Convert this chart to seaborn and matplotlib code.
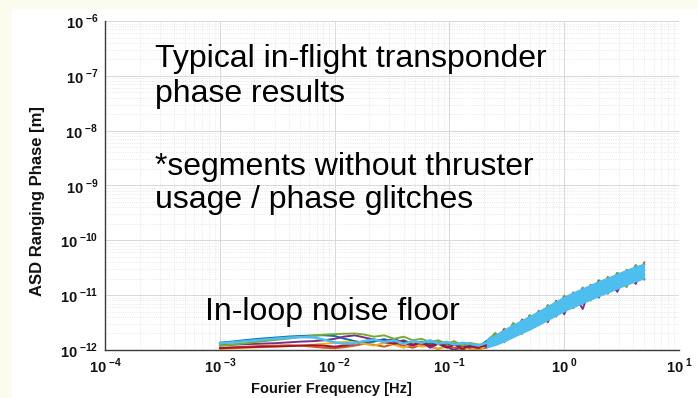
import numpy as np
import pandas as pd
import matplotlib
matplotlib.use("Agg")
import matplotlib.pyplot as plt
import seaborn as sns
from matplotlib.ticker import FixedLocator, LogLocator, FuncFormatter, NullFormatter
from matplotlib.patches import Rectangle

# Fourier frequency bins [Hz]
freq_hz = [0.001, 0.0013, 0.0017, 0.0022, 0.003, 0.004, 0.005, 0.0065, 0.008, 0.01,
           0.012, 0.015, 0.018, 0.022, 0.027, 0.033, 0.04, 0.048, 0.057, 0.068,
           0.08, 0.095, 0.11, 0.13, 0.15, 0.18, 0.21, 0.25, 0.3, 0.36,
           0.43, 0.5, 0.6, 0.72, 0.85, 1.0, 1.2, 1.45, 1.7, 2.0,
           2.4, 2.9, 3.5, 4.2, 5.0]

# ASD of the ranging phase per segment [pm]
asd_seg1 = [1.36, 1.43, 1.52, 1.60, 1.68, 1.76, 1.80, 1.84, 1.86, 1.80,
            1.62, 1.45, 1.35, 1.42, 1.58, 1.40, 1.50, 1.30, 1.42, 1.28,
            1.38, 1.22, 1.32, 1.18, 1.30, 1.15, 1.45, 1.95, 1.60, 3.05,
            2.20, 4.30, 3.10, 6.50, 4.40, 9.60, 6.40, 13.6, 9.20, 18.5,
            12.5, 25.5, 18.0, 35.0, 23.5]
asd_seg2 = [1.10, 1.12, 1.15, 1.18, 1.20, 1.22, 1.20, 1.15, 1.10, 1.08,
            1.12, 1.20, 1.30, 1.25, 1.15, 1.30, 1.20, 1.10, 1.25, 1.15,
            1.05, 1.20, 1.10, 1.00, 1.15, 1.05, 1.10, 1.30, 2.45, 1.75,
            3.60, 2.40, 5.20, 3.20, 7.90, 4.90, 11.2, 7.00, 15.5, 9.60,
            21.5, 13.0, 29.0, 18.0, 40.0]
asd_seg3 = [1.05, 1.07, 1.10, 1.12, 1.15, 1.18, 1.20, 1.25, 1.30, 1.35,
            1.40, 1.38, 1.30, 1.20, 1.35, 1.25, 1.10, 1.30, 1.15, 1.20,
            1.05, 1.15, 1.00, 1.10, 1.05, 0.98, 1.20, 1.35, 1.45, 2.55,
            1.95, 3.90, 2.85, 5.70, 4.10, 8.80, 5.80, 12.0, 8.20, 16.2,
            10.8, 22.5, 15.0, 30.0, 19.5]
asd_seg4 = [1.22, 1.25, 1.28, 1.30, 1.33, 1.38, 1.42, 1.45, 1.50, 1.60,
            1.75, 1.85, 1.70, 1.55, 1.45, 1.60, 1.35, 1.20, 1.40, 1.10,
            1.30, 1.15, 1.00, 1.20, 1.10, 1.25, 1.15, 1.30, 2.30, 1.80,
            3.50, 2.40, 5.00, 3.30, 7.50, 4.50, 10.9, 5.60, 14.4, 9.00,
            19.8, 11.5, 26.5, 16.0, 36.0]
asd_seg5 = [1.20, 1.26, 1.33, 1.42, 1.52, 1.62, 1.72, 1.82, 1.90, 1.95,
            1.98, 2.00, 1.92, 1.75, 1.85, 1.60, 1.75, 1.50, 1.60, 1.40,
            1.50, 1.30, 1.45, 1.20, 1.35, 1.25, 1.30, 2.05, 1.50, 3.10,
            2.15, 4.30, 3.00, 6.60, 4.30, 9.80, 5.80, 13.8, 8.00, 18.8,
            10.6, 25.5, 14.0, 35.5, 19.0]
asd_seg6 = [1.08, 1.10, 1.12, 1.14, 1.16, 1.18, 1.20, 1.22, 1.20, 1.15,
            1.20, 1.30, 1.45, 1.55, 1.40, 1.30, 1.45, 1.25, 1.35, 1.20,
            1.30, 1.10, 1.25, 1.05, 1.20, 1.10, 1.25, 1.75, 1.40, 2.75,
            2.00, 4.00, 2.90, 6.00, 4.10, 9.10, 6.00, 12.9, 8.30, 17.8,
            11.0, 24.0, 15.5, 32.0, 20.0]
asd_seg7 = [1.33, 1.38, 1.45, 1.52, 1.60, 1.68, 1.72, 1.70, 1.55, 1.38,
            1.30, 1.32, 1.45, 1.55, 1.40, 1.50, 1.30, 1.45, 1.35, 1.50,
            1.30, 1.40, 1.25, 1.35, 1.30, 1.20, 1.35, 1.60, 1.95, 2.25,
            2.80, 3.15, 4.00, 4.75, 5.90, 6.90, 8.50, 9.80, 11.6, 13.2,
            15.8, 18.2, 21.6, 24.6, 28.5]

# Spread of the last segment above 0.21 Hz [pm]
band_freq_hz = [0.21, 0.25, 0.3, 0.36, 0.43, 0.5, 0.6, 0.72, 0.85, 1.0,
                1.2, 1.45, 1.7, 2.0, 2.4, 2.9, 3.5, 4.2, 5.0]
band_hi = [1.60, 1.95, 2.45, 3.00, 3.65, 4.30, 5.30, 6.60, 8.00, 9.70,
           11.6, 13.8, 16.0, 18.6, 21.6, 25.5, 30.0, 34.5, 39.0]
band_lo = [1.08, 1.20, 1.40, 1.68, 2.00, 2.30, 2.80, 3.45, 4.15, 5.00,
           5.90, 7.00, 8.10, 9.40, 10.9, 12.9, 15.2, 17.5, 19.8]

# Decade ticks
x_ticks = [1e-4, 1e-3, 1e-2, 1e-1, 1e0, 1e1]
y_ticks = [1e-12, 1e-11, 1e-10, 1e-9, 1e-8, 1e-7, 1e-6]

segment_colors = ["#0072BD", "#D95319", "#EDB120", "#7E2F8E",
                  "#77AC30", "#A2142F", "#4DBEEE"]
segment_names = ["S1", "S2", "S3", "S4", "S5", "S6", "S7"]
segment_asd = [asd_seg1, asd_seg2, asd_seg3, asd_seg4, asd_seg5, asd_seg6, asd_seg7]

PM = 1e-12
frames = []
for name, vals in zip(segment_names, segment_asd):
    frames.append(pd.DataFrame({"freq": freq_hz,
                                "asd": np.asarray(vals) * PM,
                                "segment": name}))
df = pd.concat(frames, ignore_index=True)

sns.set_style("white")
plt.rcParams["font.family"] = ["Liberation Sans", "DejaVu Sans"]
plt.rcParams["mathtext.fontset"] = "custom"
plt.rcParams["mathtext.rm"] = "Liberation Sans"
plt.rcParams["mathtext.bf"] = "Liberation Sans:bold"

fig = plt.figure(figsize=(6.98, 3.98), dpi=100, facecolor="white")

# slide margins
fig.patches.append(Rectangle((0, 1 - 9 / 398), 1, 9 / 398, transform=fig.transFigure,
                             facecolor="#fbfbee", edgecolor="none", zorder=0))
fig.patches.append(Rectangle((0, 0), 12 / 698, 1, transform=fig.transFigure,
                             facecolor="#fbfbee", edgecolor="none", zorder=0))

ax = fig.add_axes([105 / 698, 1 - 350 / 398, 574 / 698, 329 / 398])
ax.set_facecolor("white")

palette = dict(zip(segment_names, segment_colors))
sns.lineplot(data=df[df.segment != "S7"], x="freq", y="asd", hue="segment",
             hue_order=segment_names[:6], palette=palette, estimator=None,
             sort=False, linewidth=1.4, legend=False, ax=ax)
ax.fill_between(band_freq_hz, np.asarray(band_lo) * PM, np.asarray(band_hi) * PM,
                color="#4DBEEE", linewidth=0, zorder=2.5)
sns.lineplot(data=df[df.segment == "S7"], x="freq", y="asd", color="#4DBEEE",
             estimator=None, sort=False, linewidth=1.8, legend=False, ax=ax,
             zorder=2.6)

ax.set_xscale("log")
ax.set_yscale("log")
ax.set_xlim(1e-4, 10)
ax.set_ylim(1e-12, 1e-6)

ax.xaxis.set_major_locator(FixedLocator(x_ticks))
ax.yaxis.set_major_locator(FixedLocator(y_ticks))
for axis in (ax.xaxis, ax.yaxis):
    axis.set_minor_locator(LogLocator(base=10, subs=np.arange(2, 10), numticks=20))
    axis.set_minor_formatter(NullFormatter())


def pow_label(v, pos):
    e = int(round(np.log10(v)))
    return r"$\mathbf{10}^{\;\mathbf{%d}}$" % e


ax.xaxis.set_major_formatter(FuncFormatter(pow_label))
ax.yaxis.set_major_formatter(FuncFormatter(pow_label))

ax.set_axisbelow(True)
ax.grid(True, which="major", color="#d8d8d8", linewidth=0.7)
ax.grid(True, which="minor", color="#e2e2e2", linewidth=0.6, linestyle=":")

for side in ("top", "right"):
    ax.spines[side].set_visible(False)
for side in ("left", "bottom"):
    ax.spines[side].set_color("#3a3a3a")
    ax.spines[side].set_linewidth(1.0)

ax.tick_params(which="major", direction="in", length=4, width=0.8, color="#3a3a3a",
               labelsize=10.5, labelcolor="#111111", pad=5)
ax.tick_params(which="minor", direction="in", length=2, width=0.6, color="#3a3a3a")
ax.tick_params(top=False, right=False)

ax.set_xlabel("Fourier Frequency [Hz]", fontsize=10.5, fontweight="bold", color="#111111")
ax.set_ylabel("ASD Ranging Phase [m]", fontsize=12, fontweight="bold", color="#111111")
ax.xaxis.set_label_coords((331 - 105) / 574, -(382 - 350) / 329)
ax.yaxis.set_label_coords(-(105 - 45) / 574, (350 - 201) / 329)


def slide_text(x_px, y_px, s):
    fig.text(x_px / 698, 1 - y_px / 398, s, fontsize=23, color="black",
             ha="left", va="baseline", family=["Liberation Sans", "DejaVu Sans"])


slide_text(155, 67, "Typical in-flight transponder")
slide_text(155, 102, "phase results")
slide_text(155, 175, "*segments without thruster")
slide_text(155, 208, "usage / phase glitches")
slide_text(205, 320, "In-loop noise floor")

fig.savefig("out.png", dpi=100, facecolor=fig.get_facecolor())
